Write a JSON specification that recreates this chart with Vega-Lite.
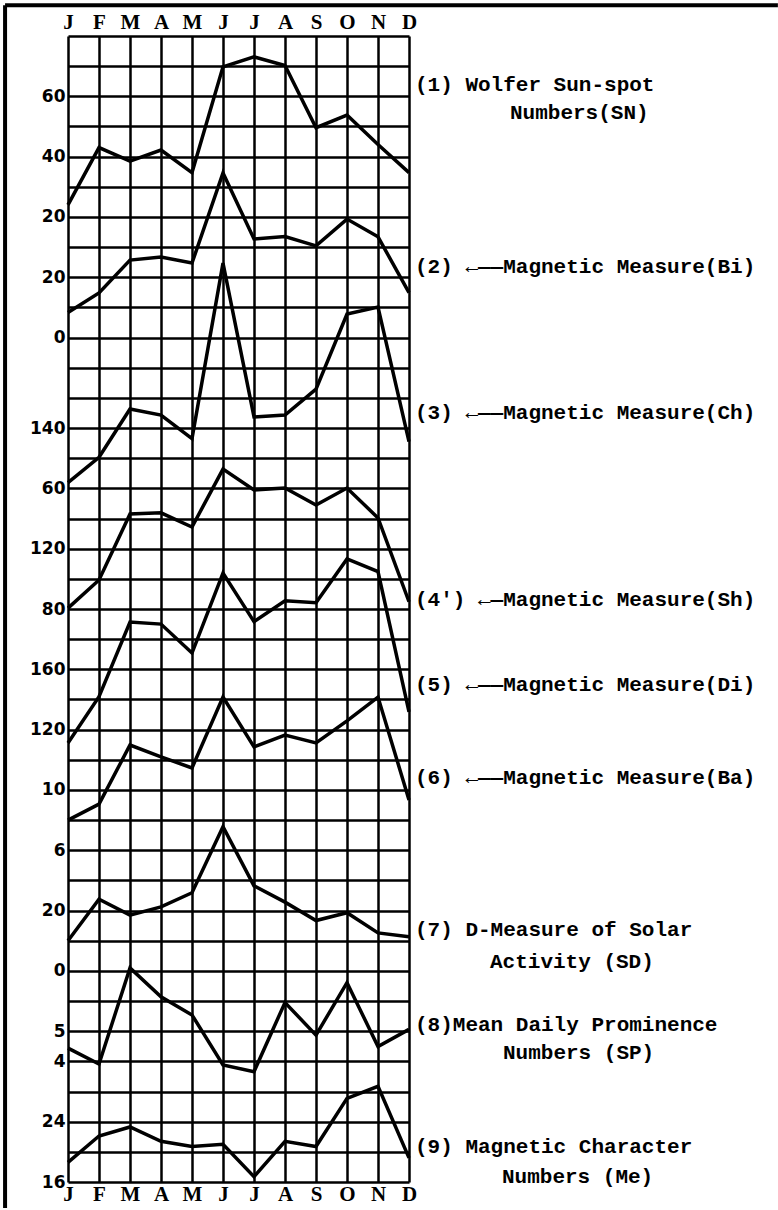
{
  "$schema": "https://vega.github.io/schema/vega-lite/v6.json",
  "width": 341,
  "height": 1146,
  "autosize": {"type": "none"},
  "padding": {"left": 68, "top": 36, "right": 369, "bottom": 28},
  "background": "white",
  "config": {"view": {"stroke": null}},
  "data": {
    "values": [
      {"month": 1, "SN": 24.0, "Bi": 8.3, "Ch": 67.6, "Sh": 80.6, "Di": 111.2, "Ba": 8.0, "SD": 10.0, "SP": 4.44, "Me": 18.6},
      {"month": 2, "SN": 43.0, "Bi": 14.8, "Ch": 101.2, "Sh": 99.2, "Di": 141.8, "Ba": 9.06, "SD": 23.8, "SP": 3.91, "Me": 22.1},
      {"month": 3, "SN": 38.5, "Bi": 25.7, "Ch": 165.2, "Sh": 143.0, "Di": 191.4, "Ba": 12.98, "SD": 18.5, "SP": 7.1, "Me": 23.3},
      {"month": 4, "SN": 42.2, "Bi": 26.7, "Ch": 157.2, "Sh": 143.8, "Di": 190.0, "Ba": 12.2, "SD": 21.2, "SP": 6.14, "Me": 21.4},
      {"month": 5, "SN": 34.7, "Bi": 24.7, "Ch": 126.0, "Sh": 134.4, "Di": 170.8, "Ba": 11.46, "SD": 25.9, "SP": 5.54, "Me": 20.7},
      {"month": 6, "SN": 69.8, "Bi": 54.6, "Ch": 358.8, "Sh": 172.8, "Di": 223.8, "Ba": 16.16, "SD": 47.8, "SP": 3.88, "Me": 21.0},
      {"month": 7, "SN": 73.1, "Bi": 32.7, "Ch": 154.8, "Sh": 159.0, "Di": 191.6, "Ba": 12.86, "SD": 28.2, "SP": 3.66, "Me": 16.7},
      {"month": 8, "SN": 70.2, "Bi": 33.5, "Ch": 157.2, "Sh": 160.2, "Di": 205.4, "Ba": 13.64, "SD": 22.8, "SP": 5.95, "Me": 21.4},
      {"month": 9, "SN": 49.6, "Bi": 30.4, "Ch": 191.6, "Sh": 149.0, "Di": 204.2, "Ba": 13.12, "SD": 16.7, "SP": 4.87, "Me": 20.7},
      {"month": 10, "SN": 53.8, "Bi": 39.3, "Ch": 291.2, "Sh": 160.2, "Di": 233.2, "Ba": 14.58, "SD": 19.3, "SP": 6.61, "Me": 27.1},
      {"month": 11, "SN": 44.0, "Bi": 33.4, "Ch": 300.4, "Sh": 140.4, "Di": 224.8, "Ba": 16.16, "SD": 12.6, "SP": 4.49, "Me": 28.7},
      {"month": 12, "SN": 34.7, "Bi": 14.9, "Ch": 122.0, "Sh": 84.8, "Di": 131.8, "Ba": 9.34, "SD": 11.3, "SP": 5.06, "Me": 19.2}
    ]
  },
  "layer": [
    {
      "data": {"values": [{}]},
      "mark": {"type": "rule", "color": "black", "strokeWidth": 4},
      "encoding": {
        "x": {
          "datum": -1.03, "type": "quantitative",
          "scale": {"domain": [1, 12], "nice": false, "zero": false},
          "axis": {
            "orient": "bottom", "values": [1, 2, 3, 4, 5, 6, 7, 8, 9, 10, 11, 12],
            "grid": true, "gridColor": "black", "gridWidth": 2.5, "gridOpacity": 1,
            "domain": false, "ticks": false, "tickSize": 0, "title": null,
            "labelExpr": "['J','F','M','A','M','J','J','A','S','O','N','D'][datum.value-1]",
            "labelFont": "Liberation Serif", "labelFontWeight": "bold", "labelFontSize": 21,
            "labelColor": "black", "labelBaseline": "alphabetic", "labelPadding": 18,
            "labelFlush": false, "labelOverlap": false
          }
        },
        "y": {
          "datum": 39.02, "type": "quantitative",
          "scale": {"domain": [0, 38], "nice": false, "zero": false},
          "axis": {
            "orient": "left",
            "values": [0, 1, 2, 3, 4, 5, 6, 7, 8, 9, 10, 11, 12, 13, 14, 15, 16, 17, 18, 19, 20, 21, 22, 23, 24, 25, 26, 27, 28, 29, 30, 31, 32, 33, 34, 35, 36, 37, 38],
            "grid": true, "gridColor": "black", "gridWidth": 2.5, "gridOpacity": 1,
            "domain": false, "ticks": false, "tickSize": 0, "title": null,
            "labelExpr": "['16','','24','','4','5','','0','','20','','6','','10','','120','','160','','80','','120','','60','','140','','','0','','20','','20','','40','','60','',''][datum.value]",
            "labelFont": "DejaVu Sans", "labelFontWeight": "bold", "labelFontSize": 17,
            "labelColor": "black", "labelBaseline": "middle", "labelPadding": 3,
            "labelFlush": false, "labelOverlap": false
          }
        },
        "y2": {"datum": -0.86}
      }
    },
    {
      "data": {"values": [{}]},
      "mark": {"type": "rule", "color": "black", "strokeWidth": 4},
      "encoding": {
        "x": {
          "datum": -1.03, "type": "quantitative",
          "axis": {
            "orient": "top", "values": [1, 2, 3, 4, 5, 6, 7, 8, 9, 10, 11, 12],
            "grid": false, "domain": false, "ticks": false, "tickSize": 0, "title": null,
            "labelExpr": "['J','F','M','A','M','J','J','A','S','O','N','D'][datum.value-1]",
            "labelFont": "Liberation Serif", "labelFontWeight": "bold", "labelFontSize": 21,
            "labelColor": "black", "labelBaseline": "alphabetic", "labelPadding": 8,
            "labelFlush": false, "labelOverlap": false
          }
        },
        "x2": {"datum": 23.9},
        "y": {"datum": 39.02, "type": "quantitative", "scale": {"domain": [0, 38], "nice": false, "zero": false}, "axis": null}
      }
    },
    {
      "data": {"values": [{}]},
      "mark": {"type": "text", "font": "Liberation Mono", "fontWeight": "bold", "fontSize": 21, "align": "left", "baseline": "middle", "color": "black", "dx": 6},
      "encoding": {"x": {"datum": 12, "type": "quantitative", "axis": null}, "y": {"datum": 36.37, "type": "quantitative", "scale": {"domain": [0, 38], "nice": false, "zero": false}, "axis": null}, "text": {"value": "(1) Wolfer Sun-spot"}}
    },
    {
      "data": {"values": [{}]},
      "mark": {"type": "text", "font": "Liberation Mono", "fontWeight": "bold", "fontSize": 21, "align": "left", "baseline": "middle", "color": "black", "dx": 101},
      "encoding": {"x": {"datum": 12, "type": "quantitative", "axis": null}, "y": {"datum": 35.44, "type": "quantitative", "scale": {"domain": [0, 38], "nice": false, "zero": false}, "axis": null}, "text": {"value": "Numbers(SN)"}}
    },
    {
      "data": {"values": [{}]},
      "mark": {"type": "text", "font": "Liberation Mono", "fontWeight": "bold", "fontSize": 21, "align": "left", "baseline": "middle", "color": "black", "dx": 6},
      "encoding": {"x": {"datum": 12, "type": "quantitative", "axis": null}, "y": {"datum": 30.35, "type": "quantitative", "scale": {"domain": [0, 38], "nice": false, "zero": false}, "axis": null}, "text": {"value": "(2) ←——Magnetic Measure(Bi)"}}
    },
    {
      "data": {"values": [{}]},
      "mark": {"type": "text", "font": "Liberation Mono", "fontWeight": "bold", "fontSize": 21, "align": "left", "baseline": "middle", "color": "black", "dx": 6},
      "encoding": {"x": {"datum": 12, "type": "quantitative", "axis": null}, "y": {"datum": 25.49, "type": "quantitative", "scale": {"domain": [0, 38], "nice": false, "zero": false}, "axis": null}, "text": {"value": "(3) ←——Magnetic Measure(Ch)"}}
    },
    {
      "data": {"values": [{}]},
      "mark": {"type": "text", "font": "Liberation Mono", "fontWeight": "bold", "fontSize": 21, "align": "left", "baseline": "middle", "color": "black", "dx": 6},
      "encoding": {"x": {"datum": 12, "type": "quantitative", "axis": null}, "y": {"datum": 19.3, "type": "quantitative", "scale": {"domain": [0, 38], "nice": false, "zero": false}, "axis": null}, "text": {"value": "(4') ←—Magnetic Measure(Sh)"}}
    },
    {
      "data": {"values": [{}]},
      "mark": {"type": "text", "font": "Liberation Mono", "fontWeight": "bold", "fontSize": 21, "align": "left", "baseline": "middle", "color": "black", "dx": 6},
      "encoding": {"x": {"datum": 12, "type": "quantitative", "axis": null}, "y": {"datum": 16.48, "type": "quantitative", "scale": {"domain": [0, 38], "nice": false, "zero": false}, "axis": null}, "text": {"value": "(5) ←——Magnetic Measure(Di)"}}
    },
    {
      "data": {"values": [{}]},
      "mark": {"type": "text", "font": "Liberation Mono", "fontWeight": "bold", "fontSize": 21, "align": "left", "baseline": "middle", "color": "black", "dx": 6},
      "encoding": {"x": {"datum": 12, "type": "quantitative", "axis": null}, "y": {"datum": 13.39, "type": "quantitative", "scale": {"domain": [0, 38], "nice": false, "zero": false}, "axis": null}, "text": {"value": "(6) ←——Magnetic Measure(Ba)"}}
    },
    {
      "data": {"values": [{}]},
      "mark": {"type": "text", "font": "Liberation Mono", "fontWeight": "bold", "fontSize": 21, "align": "left", "baseline": "middle", "color": "black", "dx": 6},
      "encoding": {"x": {"datum": 12, "type": "quantitative", "axis": null}, "y": {"datum": 8.36, "type": "quantitative", "scale": {"domain": [0, 38], "nice": false, "zero": false}, "axis": null}, "text": {"value": "(7) D-Measure of Solar"}}
    },
    {
      "data": {"values": [{}]},
      "mark": {"type": "text", "font": "Liberation Mono", "fontWeight": "bold", "fontSize": 21, "align": "left", "baseline": "middle", "color": "black", "dx": 81},
      "encoding": {"x": {"datum": 12, "type": "quantitative", "axis": null}, "y": {"datum": 7.31, "type": "quantitative", "scale": {"domain": [0, 38], "nice": false, "zero": false}, "axis": null}, "text": {"value": "Activity (SD)"}}
    },
    {
      "data": {"values": [{}]},
      "mark": {"type": "text", "font": "Liberation Mono", "fontWeight": "bold", "fontSize": 21, "align": "left", "baseline": "middle", "color": "black", "dx": 6},
      "encoding": {"x": {"datum": 12, "type": "quantitative", "axis": null}, "y": {"datum": 5.21, "type": "quantitative", "scale": {"domain": [0, 38], "nice": false, "zero": false}, "axis": null}, "text": {"value": "(8)Mean Daily Prominence"}}
    },
    {
      "data": {"values": [{}]},
      "mark": {"type": "text", "font": "Liberation Mono", "fontWeight": "bold", "fontSize": 21, "align": "left", "baseline": "middle", "color": "black", "dx": 94},
      "encoding": {"x": {"datum": 12, "type": "quantitative", "axis": null}, "y": {"datum": 4.27, "type": "quantitative", "scale": {"domain": [0, 38], "nice": false, "zero": false}, "axis": null}, "text": {"value": "Numbers (SP)"}}
    },
    {
      "data": {"values": [{}]},
      "mark": {"type": "text", "font": "Liberation Mono", "fontWeight": "bold", "fontSize": 21, "align": "left", "baseline": "middle", "color": "black", "dx": 6},
      "encoding": {"x": {"datum": 12, "type": "quantitative", "axis": null}, "y": {"datum": 1.17, "type": "quantitative", "scale": {"domain": [0, 38], "nice": false, "zero": false}, "axis": null}, "text": {"value": "(9) Magnetic Character"}}
    },
    {
      "data": {"values": [{}]},
      "mark": {"type": "text", "font": "Liberation Mono", "fontWeight": "bold", "fontSize": 21, "align": "left", "baseline": "middle", "color": "black", "dx": 93},
      "encoding": {"x": {"datum": 12, "type": "quantitative", "axis": null}, "y": {"datum": 0.18, "type": "quantitative", "scale": {"domain": [0, 38], "nice": false, "zero": false}, "axis": null}, "text": {"value": "Numbers (Me)"}}
    },
    {
      "mark": {"type": "line", "color": "black", "strokeWidth": 3.5},
      "encoding": {
        "x": {"field": "month", "type": "quantitative", "axis": null},
        "y": {"field": "SN", "type": "quantitative", "scale": {"domain": [-300, 80], "nice": false, "zero": false}, "axis": null}
      }
    },
    {
      "mark": {"type": "line", "color": "black", "strokeWidth": 3.5},
      "encoding": {
        "x": {"field": "month", "type": "quantitative", "axis": null},
        "y": {"field": "Bi", "type": "quantitative", "scale": {"domain": [-280, 100], "nice": false, "zero": false}, "axis": null}
      }
    },
    {
      "mark": {"type": "line", "color": "black", "strokeWidth": 3.5},
      "encoding": {
        "x": {"field": "month", "type": "quantitative", "axis": null},
        "y": {"field": "Ch", "type": "quantitative", "scale": {"domain": [-860, 660], "nice": false, "zero": false}, "axis": null}
      }
    },
    {
      "mark": {"type": "line", "color": "black", "strokeWidth": 3.5},
      "encoding": {
        "x": {"field": "month", "type": "quantitative", "axis": null},
        "y": {"field": "Sh", "type": "quantitative", "scale": {"domain": [-300, 460], "nice": false, "zero": false}, "axis": null}
      }
    },
    {
      "mark": {"type": "line", "color": "black", "strokeWidth": 3.5},
      "encoding": {
        "x": {"field": "month", "type": "quantitative", "axis": null},
        "y": {"field": "Di", "type": "quantitative", "scale": {"domain": [-180, 580], "nice": false, "zero": false}, "axis": null}
      }
    },
    {
      "mark": {"type": "line", "color": "black", "strokeWidth": 3.5},
      "encoding": {
        "x": {"field": "month", "type": "quantitative", "axis": null},
        "y": {"field": "Ba", "type": "quantitative", "scale": {"domain": [-16, 60], "nice": false, "zero": false}, "axis": null}
      }
    },
    {
      "mark": {"type": "line", "color": "black", "strokeWidth": 3.5},
      "encoding": {
        "x": {"field": "month", "type": "quantitative", "axis": null},
        "y": {"field": "SD", "type": "quantitative", "scale": {"domain": [-70, 310], "nice": false, "zero": false}, "axis": null}
      }
    },
    {
      "mark": {"type": "line", "color": "black", "strokeWidth": 3.5},
      "encoding": {
        "x": {"field": "month", "type": "quantitative", "axis": null},
        "y": {"field": "SP", "type": "quantitative", "scale": {"domain": [0, 38], "nice": false, "zero": false}, "axis": null}
      }
    },
    {
      "mark": {"type": "line", "color": "black", "strokeWidth": 3.5},
      "encoding": {
        "x": {"field": "month", "type": "quantitative", "axis": null},
        "y": {"field": "Me", "type": "quantitative", "scale": {"domain": [16, 168], "nice": false, "zero": false}, "axis": null}
      }
    }
  ],
  "resolve": {"scale": {"y": "independent"}, "axis": {"x": "independent", "y": "independent"}}
}
